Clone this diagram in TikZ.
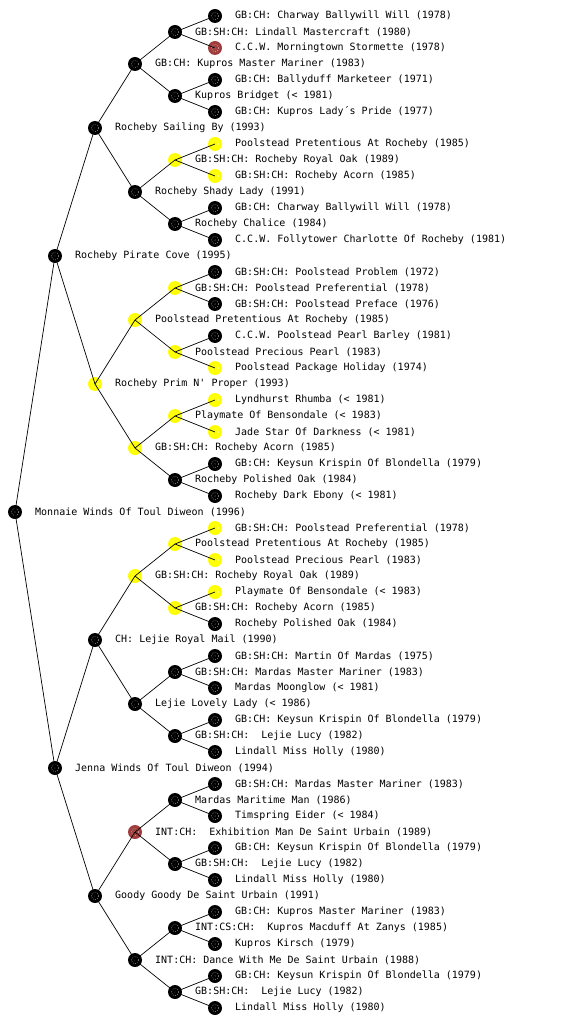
\documentclass[tikz,border=0pt]{standalone}
\usepackage{fontspec}
\newfontfamily\pedmono{DejaVu Sans Mono}
\definecolor{nblack}{RGB}{0,0,0}
\definecolor{nyellow}{RGB}{255,255,0}
\definecolor{nred}{RGB}{160,62,62}
\tikzset{
  pn/.style={circle, minimum size=14pt, inner sep=0pt, fill=#1,
    path picture={\draw[white, opacity=0.55, line width=0.7pt, dash pattern=on 0.7pt off 1.4pt]
      (path picture bounding box.center) circle (3.6pt);
      \fill[white, opacity=0.55] (path picture bounding box.center) circle (0.6pt);}},
  lab/.style={anchor=west, inner sep=0pt, font=\pedmono\fontsize{10}{12}\selectfont, text=black},
  edge/.style={draw=black, line width=0.7pt}
}
\newcommand\pnode[4]{%
  \node[pn=#3] (n#1) at ({15+40*#2},{-16*#1}) {};
  \node[lab] (l#1) at ({35+40*#2},{-16*#1}) {#4};
}
\begin{document}
\begin{tikzpicture}[x=1pt,y=1pt]
\fill[white] (0,0) rectangle (560,-1024);
\useasboundingbox (0,0) rectangle (560,-1024);
\pnode{1}{5}{nblack}{GB:CH: Charway Ballywill Will (1978)}
\pnode{2}{4}{nblack}{GB:SH:CH: Lindall Mastercraft (1980)}
\pnode{3}{5}{nred}{C.C.W. Morningtown Stormette (1978)}
\pnode{4}{3}{nblack}{GB:CH: Kupros Master Mariner (1983)}
\pnode{5}{5}{nblack}{GB:CH: Ballyduff Marketeer (1971)}
\pnode{6}{4}{nblack}{Kupros Bridget (< 1981)}
\pnode{7}{5}{nblack}{GB:CH: Kupros Lady´s Pride (1977)}
\pnode{8}{2}{nblack}{Rocheby Sailing By (1993)}
\pnode{9}{5}{nyellow}{Poolstead Pretentious At Rocheby (1985)}
\pnode{10}{4}{nyellow}{GB:SH:CH: Rocheby Royal Oak (1989)}
\pnode{11}{5}{nyellow}{GB:SH:CH: Rocheby Acorn (1985)}
\pnode{12}{3}{nblack}{Rocheby Shady Lady (1991)}
\pnode{13}{5}{nblack}{GB:CH: Charway Ballywill Will (1978)}
\pnode{14}{4}{nblack}{Rocheby Chalice (1984)}
\pnode{15}{5}{nblack}{C.C.W. Follytower Charlotte Of Rocheby (1981)}
\pnode{16}{1}{nblack}{Rocheby Pirate Cove (1995)}
\pnode{17}{5}{nblack}{GB:SH:CH: Poolstead Problem (1972)}
\pnode{18}{4}{nyellow}{GB:SH:CH: Poolstead Preferential (1978)}
\pnode{19}{5}{nblack}{GB:SH:CH: Poolstead Preface (1976)}
\pnode{20}{3}{nyellow}{Poolstead Pretentious At Rocheby (1985)}
\pnode{21}{5}{nblack}{C.C.W. Poolstead Pearl Barley (1981)}
\pnode{22}{4}{nyellow}{Poolstead Precious Pearl (1983)}
\pnode{23}{5}{nyellow}{Poolstead Package Holiday (1974)}
\pnode{24}{2}{nyellow}{Rocheby Prim N' Proper (1993)}
\pnode{25}{5}{nyellow}{Lyndhurst Rhumba (< 1981)}
\pnode{26}{4}{nyellow}{Playmate Of Bensondale (< 1983)}
\pnode{27}{5}{nyellow}{Jade Star Of Darkness (< 1981)}
\pnode{28}{3}{nyellow}{GB:SH:CH: Rocheby Acorn (1985)}
\pnode{29}{5}{nblack}{GB:CH: Keysun Krispin Of Blondella (1979)}
\pnode{30}{4}{nblack}{Rocheby Polished Oak (1984)}
\pnode{31}{5}{nblack}{Rocheby Dark Ebony (< 1981)}
\pnode{32}{0}{nblack}{Monnaie Winds Of Toul Diweon (1996)}
\pnode{33}{5}{nyellow}{GB:SH:CH: Poolstead Preferential (1978)}
\pnode{34}{4}{nyellow}{Poolstead Pretentious At Rocheby (1985)}
\pnode{35}{5}{nyellow}{Poolstead Precious Pearl (1983)}
\pnode{36}{3}{nyellow}{GB:SH:CH: Rocheby Royal Oak (1989)}
\pnode{37}{5}{nyellow}{Playmate Of Bensondale (< 1983)}
\pnode{38}{4}{nyellow}{GB:SH:CH: Rocheby Acorn (1985)}
\pnode{39}{5}{nblack}{Rocheby Polished Oak (1984)}
\pnode{40}{2}{nblack}{CH: Lejie Royal Mail (1990)}
\pnode{41}{5}{nblack}{GB:SH:CH: Martin Of Mardas (1975)}
\pnode{42}{4}{nblack}{GB:SH:CH: Mardas Master Mariner (1983)}
\pnode{43}{5}{nblack}{Mardas Moonglow (< 1981)}
\pnode{44}{3}{nblack}{Lejie Lovely Lady (< 1986)}
\pnode{45}{5}{nblack}{GB:CH: Keysun Krispin Of Blondella (1979)}
\pnode{46}{4}{nblack}{GB:SH:CH:\ \ Lejie Lucy (1982)}
\pnode{47}{5}{nblack}{Lindall Miss Holly (1980)}
\pnode{48}{1}{nblack}{Jenna Winds Of Toul Diweon (1994)}
\pnode{49}{5}{nblack}{GB:SH:CH: Mardas Master Mariner (1983)}
\pnode{50}{4}{nblack}{Mardas Maritime Man (1986)}
\pnode{51}{5}{nblack}{Timspring Eider (< 1984)}
\pnode{52}{3}{nred}{INT:CH:\ \ Exhibition Man De Saint Urbain (1989)}
\pnode{53}{5}{nblack}{GB:CH: Keysun Krispin Of Blondella (1979)}
\pnode{54}{4}{nblack}{GB:SH:CH:\ \ Lejie Lucy (1982)}
\pnode{55}{5}{nblack}{Lindall Miss Holly (1980)}
\pnode{56}{2}{nblack}{Goody Goody De Saint Urbain (1991)}
\pnode{57}{5}{nblack}{GB:CH: Kupros Master Mariner (1983)}
\pnode{58}{4}{nblack}{INT:CS:CH:\ \ Kupros Macduff At Zanys (1985)}
\pnode{59}{5}{nblack}{Kupros Kirsch (1979)}
\pnode{60}{3}{nblack}{INT:CH: Dance With Me De Saint Urbain (1988)}
\pnode{61}{5}{nblack}{GB:CH: Keysun Krispin Of Blondella (1979)}
\pnode{62}{4}{nblack}{GB:SH:CH:\ \ Lejie Lucy (1982)}
\pnode{63}{5}{nblack}{Lindall Miss Holly (1980)}
\foreach \p/\a/\b in {32/16/48,
  16/8/24, 48/40/56,
  8/4/12, 24/20/28, 40/36/44, 56/52/60,
  4/2/6, 12/10/14, 20/18/22, 28/26/30, 36/34/38, 44/42/46, 52/50/54, 60/58/62,
  2/1/3, 6/5/7, 10/9/11, 14/13/15, 18/17/19, 22/21/23, 26/25/27, 30/29/31,
  34/33/35, 38/37/39, 42/41/43, 46/45/47, 50/49/51, 54/53/55, 58/57/59, 62/61/63}
  \draw[edge] (n\p.center) -- (n\a.center) (n\p.center) -- (n\b.center);
\end{tikzpicture}
\end{document}
